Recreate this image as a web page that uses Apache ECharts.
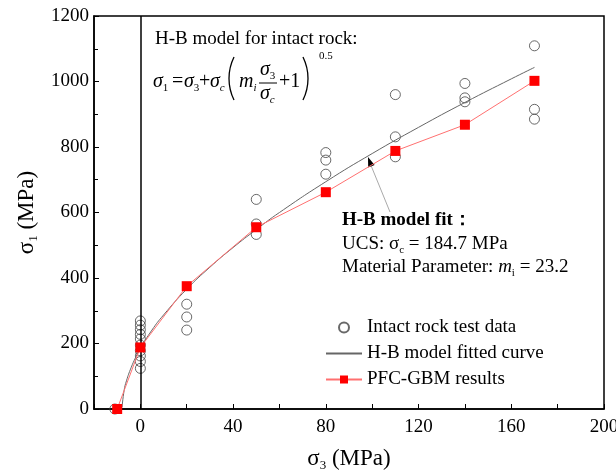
<!DOCTYPE html>
<html>
<head>
<meta charset="utf-8">
<script src="https://cdn.jsdelivr.net/npm/echarts@6/dist/echarts.min.js"></script>
<style>html,body{margin:0;padding:0;background:#fff}#c{width:616px;height:471px}</style>
</head>
<body>
<div id="c"></div>
<script>
// ---- data ----
var testX = [-11, 0,0,0,0,0,0,0,0,0,0, 20,20,20, 50,50,50, 80,80,80, 110,110,110, 140,140,140, 170,170,170];
var testY = [0, 269,256,242,228,214,195,178,162,145,124, 320,281,241, 640,565,533, 783,760,717, 960,831,770, 994,950,938, 1109,915,885];
var hbX = [-7.9,-7,-6,-4,-2,0,5,10,20,30,40,50,60,80,100,120,140,160,170];
var hbY = [5,57,86,126,158,185,241,287,366,433,493,548,600,694,780,860,936,1008,1043];
var pfcX = [-10, 0, 20, 50, 80, 110, 140, 170];
var pfcY = [0, 188, 375, 555, 662, 788, 868, 1002];
var xTicks = [0, 40, 80, 120, 160, 200];

function zip(a, b) { return a.map(function (v, i) { return [v, b[i]]; }); }

var FF = "'Liberation Serif', 'Times New Roman', serif";
var chart = echarts.init(document.getElementById('c'), null, {renderer: 'canvas'});

function sym(x, y, main, sub, italicSub) {
  return {type: 'text', x: x, y: y, style: {
    text: '{i|' + main + '}{s|' + sub + '}',
    rich: {i: {fontFamily: FF, fontStyle: 'italic', fontSize: 20, lineHeight: 24, fill: '#000'},
           s: {fontFamily: FF, fontStyle: italicSub ? 'italic' : 'normal', fontSize: 11, lineHeight: 24, verticalAlign: 'bottom', fill: '#000'}}}};
}
function plain(x, y, t, size) {
  return {type: 'text', x: x, y: y, style: {text: t, fontFamily: FF, fontSize: size, lineHeight: 24, fill: '#000'}};
}

var nameRich = {
  a: {fontFamily: FF, fontSize: 23, color: '#000', lineHeight: 26},
  s: {fontFamily: FF, fontSize: 13, color: '#000', verticalAlign: 'bottom', lineHeight: 26}
};

var option = {
  backgroundColor: '#fff',
  animation: false,
  textStyle: {fontFamily: FF},
  grid: {left: 94, right: 12, top: 16, bottom: 62, show: true, borderColor: '#000', borderWidth: 1.5,
    backgroundColor: 'transparent', containLabel: false, outerBoundsMode: 'none'},
  xAxis: {
    type: 'value', min: -20, max: 200, interval: 20,
    axisLine: {onZero: false, lineStyle: {color: '#000', width: 1.5}},
    axisTick: {inside: true, length: 5, lineStyle: {color: '#000', width: 1}},
    splitLine: {show: false},
    axisLabel: {color: '#000', fontFamily: FF, fontSize: 19, margin: 9,
      formatter: function (v) { return xTicks.indexOf(v) >= 0 ? String(v) : ''; }},
    name: '{a|σ}{s|3}{a| (MPa)}', nameLocation: 'middle', nameGap: 37,
    nameTextStyle: {fontFamily: FF, rich: nameRich}
  },
  yAxis: {
    type: 'value', min: 0, max: 1200, interval: 200,
    axisLine: {onZero: false, lineStyle: {color: '#000', width: 1.5}},
    axisTick: {inside: true, length: 5, lineStyle: {color: '#000', width: 1}},
    minorTick: {show: true, splitNumber: 2, length: 4, lineStyle: {color: '#000', width: 1}},
    splitLine: {show: false},
    axisLabel: {color: '#000', fontFamily: FF, fontSize: 19, margin: 5,
      formatter: function (v) { return String(v); }},
    name: '{a|σ}{s|1}{a| (MPa)}', nameLocation: 'middle', nameGap: 50, nameRotate: 90,
    nameTextStyle: {fontFamily: FF, rich: nameRich}
  },
  legend: {
    orient: 'vertical', left: 320, top: 313, itemWidth: 36, itemHeight: 10, itemGap: 7,
    textStyle: {fontFamily: FF, fontSize: 19, color: '#000'},
    data: [
      'Intact rock test data',
      {name: 'H-B model fitted curve', itemStyle: {color: 'rgba(0,0,0,0)', borderColor: 'rgba(0,0,0,0)', borderWidth: 0, opacity: 0}},
      'PFC-GBM results'
    ]
  },
  series: [
    {
      name: 'Intact rock test data', type: 'scatter', data: zip(testX, testY),
      symbol: 'circle', symbolSize: 10,
      itemStyle: {color: 'rgba(255,255,255,0)', borderColor: '#444', borderWidth: 1},
      z: 3,
      markLine: {silent: true, symbol: 'none', label: {show: false},
        lineStyle: {color: '#000', width: 1.5, type: 'solid'},
        data: [{xAxis: 0}]}
    },
    {
      name: 'H-B model fitted curve', type: 'line', data: zip(hbX, hbY),
      smooth: true, showSymbol: false, symbol: 'none',
      lineStyle: {color: '#666', width: 1}, itemStyle: {color: '#666'}, z: 4
    },
    {
      name: 'PFC-GBM results', type: 'line', data: zip(pfcX, pfcY),
      symbol: 'rect', symbolSize: 10,
      lineStyle: {color: '#ff7070', width: 1}, itemStyle: {color: '#ff0000'}, z: 5
    }
  ],
  graphic: [
    {type: 'text', left: 155, top: 30, style: {text: 'H-B model for intact rock:', fontFamily: FF, fontSize: 19, fill: '#000'}},
    // formula
    sym(153, 70, 'σ', '1', false),
    plain(172, 70, '=', 20),
    sym(184, 70, 'σ', '3', false),
    plain(199, 70, '+', 20),
    sym(210, 70, 'σ', 'c', true),
    {type: 'arc', shape: {cx: 229 + 48.7, cy: 78.5, r: 48.7, startAngle: Math.PI - 0.458, endAngle: Math.PI + 0.458}, style: {stroke: '#000', lineWidth: 1.3, fill: null}},
    {type: 'arc', shape: {cx: 308 - 48.7, cy: 78.5, r: 48.7, startAngle: -0.458, endAngle: 0.458}, style: {stroke: '#000', lineWidth: 1.3, fill: null}},
    sym(239, 70, 'm', 'i', true),
    sym(260, 58, 'σ', '3', false),
    {type: 'line', shape: {x1: 259, y1: 83, x2: 277, y2: 83}, style: {stroke: '#000', lineWidth: 1}},
    sym(260, 82, 'σ', 'c', true),
    plain(279, 70, '+1', 20),
    plain(319, 44, '0.5', 11),
    // fit annotation
    {type: 'line', shape: {x1: 390, y1: 212, x2: 370, y2: 163}, style: {stroke: '#aaa', lineWidth: 1}},
    {type: 'polygon', shape: {points: [[368, 157], [374.6, 165], [368.2, 167.6]]}, style: {fill: '#000'}},
    {type: 'text', x: 342, y: 211, style: {text: 'H-B model fit\uFF1A', fontFamily: FF, fontSize: 19, fontWeight: 'bold', fill: '#000'}},
    {type: 'text', x: 342, y: 232, style: {
      text: '{n|UCS: σ}{s|c}{n| = 184.7 MPa}',
      rich: {n: {fontFamily: FF, fontSize: 19, lineHeight: 24, fill: '#000'},
             s: {fontFamily: FF, fontSize: 11, lineHeight: 24, verticalAlign: 'bottom', fill: '#000'}}}},
    {type: 'text', x: 342, y: 255, style: {
      text: '{n|Material Parameter: }{i|m}{s|i}{n| = 23.2}',
      rich: {n: {fontFamily: FF, fontSize: 19, lineHeight: 24, fill: '#000'},
             i: {fontFamily: FF, fontStyle: 'italic', fontSize: 19, lineHeight: 24, fill: '#000'},
             s: {fontFamily: FF, fontSize: 11, lineHeight: 24, verticalAlign: 'bottom', fill: '#000'}}}}
  ]
};
chart.setOption(option);
</script>
</body>
</html>
